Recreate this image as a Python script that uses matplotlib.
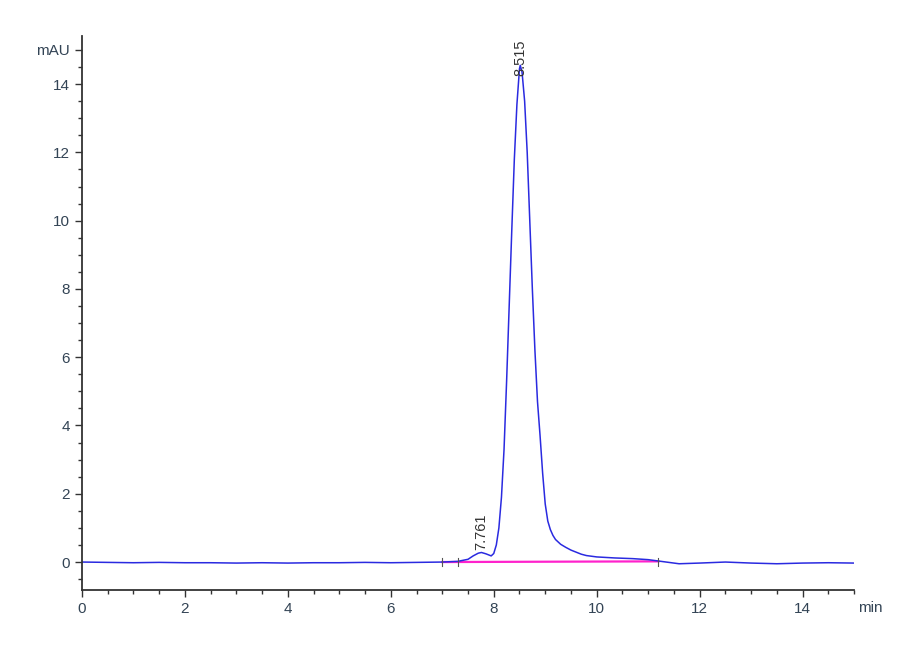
import numpy as np
from matplotlib import pyplot as plt
from matplotlib.ticker import MultipleLocator

# chromatogram (time in min, signal in mAU)
time_min = [0.0, 0.5, 1.0, 1.5, 2.0, 2.5, 3.0, 3.5, 4.0, 4.5, 5.0, 5.5, 6.0, 6.5,
            7.0, 7.3, 7.5, 7.6, 7.7, 7.761, 7.85, 7.95, 8.0, 8.05, 8.1, 8.15,
            8.2, 8.25, 8.3, 8.35, 8.4, 8.45, 8.5, 8.515, 8.55, 8.6, 8.65, 8.7,
            8.75, 8.8, 8.85, 8.9, 8.95, 9.0, 9.05, 9.1, 9.15, 9.2, 9.3, 9.4,
            9.5, 9.6, 9.7, 9.8, 10.0, 10.35, 10.7, 11.0, 11.2, 11.6, 12.0,
            12.5, 13.0, 13.5, 14.0, 14.5, 15.0]
signal_mau = [0.0, -0.01, -0.02, -0.01, -0.02, -0.02, -0.03, -0.02, -0.03, -0.02,
              -0.02, -0.01, -0.02, -0.01,
              0.0, 0.02, 0.08, 0.18, 0.26, 0.28, 0.24, 0.18, 0.25, 0.5, 1.0, 1.9,
              3.3, 5.3, 7.5, 9.7, 11.8, 13.4, 14.45, 14.55, 14.35, 13.5, 12.0, 10.0,
              8.0, 6.2, 4.7, 3.7, 2.6, 1.7, 1.2, 0.95, 0.78, 0.66, 0.52, 0.43,
              0.35, 0.29, 0.23, 0.19, 0.15, 0.12, 0.1, 0.07, 0.03, -0.05, -0.03,
              0.0, -0.03, -0.05, -0.03, -0.02, -0.03]

peak_times = [7.761, 8.515]
peak_heights = [0.28, 14.55]
peak_offsets = [0.08, -0.3]
peak_labels = ['7.761', '8.515']

baseline_t = [7.0, 11.2]
baseline_v = [0.0, 0.02]

plt.rcParams['font.family'] = ['Liberation Sans Narrow', 'Liberation Sans', 'DejaVu Sans']

fig = plt.figure(figsize=(9, 6.6), dpi=100)
ax = fig.add_axes([0.091, 0.106, 0.858, 0.839])

ax.plot(baseline_t, baseline_v, color='#ff22cc', lw=1.6, zorder=1)
ax.plot(time_min, signal_mau, color='#2a2ae0', lw=1.1, zorder=2)

# peak start/end markers
for t in [7.0, 7.3, 11.2]:
    ax.plot([t, t], [-0.12, 0.12], color='#555555', lw=0.8)

for t, h, off, lab in zip(peak_times, peak_heights, peak_offsets, peak_labels):
    ax.text(t, h + off, lab, rotation=90, ha='center', va='bottom',
            fontsize=10.5, color='#333333', zorder=3)

ax.set_xlim(0, 15)
ax.set_ylim(-0.82, 15.4)
ax.xaxis.set_major_locator(MultipleLocator(2))
ax.xaxis.set_minor_locator(MultipleLocator(0.5))
ax.set_yticks([0, 2, 4, 6, 8, 10, 12, 14, 15])
ax.set_yticklabels(['0', '2', '4', '6', '8', '10', '12', '14', 'mAU'])
ax.yaxis.set_minor_locator(MultipleLocator(0.5))

for s in ['top', 'right']:
    ax.spines[s].set_visible(False)
for s in ['left', 'bottom']:
    ax.spines[s].set_color('#333333')
    ax.spines[s].set_linewidth(1.3)

ax.tick_params(which='major', length=5, width=1, colors='#333333', labelsize=11,
               labelcolor='#334455')
ax.tick_params(which='minor', length=3, width=1, colors='#333333')

ax.text(1.005, -0.02, 'min', transform=ax.transAxes, ha='left', va='top',
        fontsize=11, color='#334455')

fig.savefig('out.png', dpi=100)
